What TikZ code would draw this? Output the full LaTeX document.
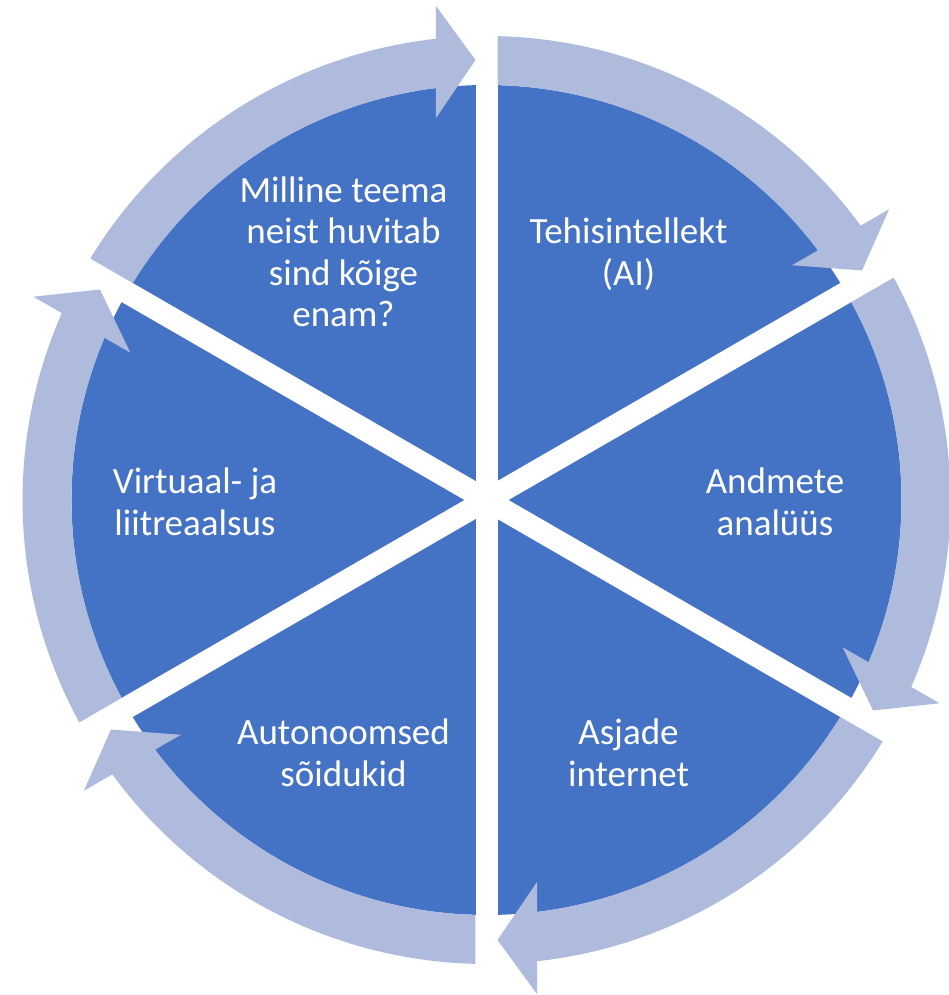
\documentclass[tikz,border=0pt]{standalone}
\usepackage{fontspec}
\setmainfont{Carlito}
\definecolor{piec}{HTML}{4472C4}
\definecolor{arrowc}{RGB}{175,187,221}
\tikzset{
  lbl/.style={text=white, align=center, inner sep=0pt, font=\fontsize{37}{41.5}\selectfont},
  gapline/.style={draw=white, line width=22pt},
  cyc/.style={fill=arrowc}
}
\newcommand{\cyclearrow}[1]{%
  \begin{scope}[rotate=#1]
    \fill[cyc] (148.48:415) arc[start angle=148.48, end angle=96.99, radius=415]
      -- (-50.5,382) -- (-11,440) -- (-50.5,494) -- (96.25:464)
      arc[start angle=96.25, end angle=148.64, radius=464] -- cycle;
  \end{scope}}
\begin{document}
\begin{tikzpicture}[x=1pt,y=1pt]
\useasboundingbox (-486.5,-495) rectangle (462.5,500);
\coordinate (c) at (0,0);
\fill[piec] (c) circle[radius=415];
\foreach \a in {90,30,150}{
  \draw[gapline] (\a:430) -- (\a+180:430);
}
\foreach \r in {0,-60,-120,-180,-240,-300}{
  \cyclearrow{\r}
}
\node[lbl] (q) at (-143,248) {Milline teema\\neist huvitab\\sind kõige\\enam?};
\node[lbl] (ai) at (142,246) {Tehisintellekt\\(AI)};
\node[lbl] (da) at (288.5,-2) {Andmete\\analüüs};
\node[lbl] (iot) at (142,-253) {Asjade\\internet};
\node[lbl] (av) at (-143,-253) {Autonoomsed\\sõidukid};
\node[lbl] (vr) at (-291.5,-2) {Virtuaal- ja\\liitreaalsus};
\end{tikzpicture}
\end{document}
